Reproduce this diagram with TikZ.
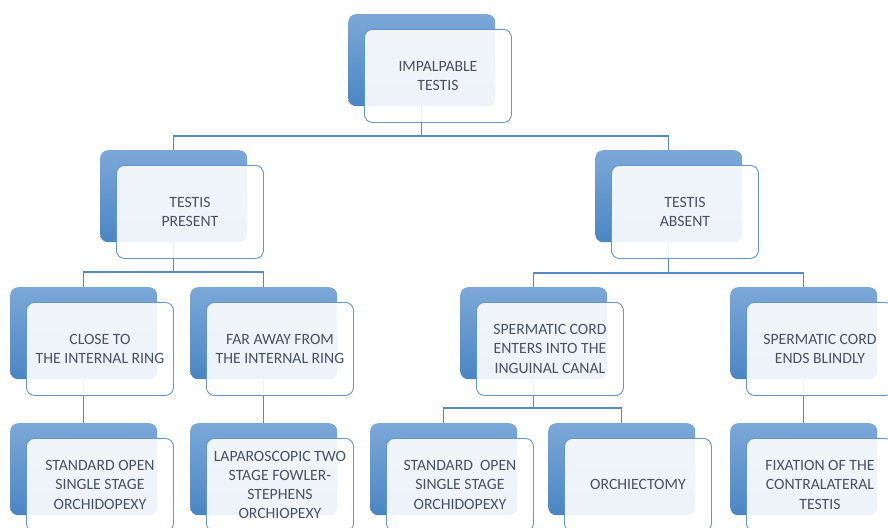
\documentclass[tikz,border=0pt]{standalone}
\usepackage{fontspec}
\setmainfont{Carlito}
\definecolor{boxtop}{RGB}{124,168,216}
\definecolor{boxbot}{RGB}{74,134,196}
\definecolor{frontline}{RGB}{100,149,207}
\definecolor{connc}{RGB}{88,137,197}
\definecolor{txt}{RGB}{72,82,100}
\pgfdeclarelayer{bg}
\pgfsetlayers{bg,main}
\tikzset{
  backbox/.style={rounded corners=8pt, top color=boxtop, bottom color=boxbot,
    minimum width=147pt, minimum height=92pt, inner sep=0pt, anchor=north west},
  frontbox/.style={rounded corners=8pt, draw=frontline, line width=0.9pt,
    fill=white, fill opacity=0.9, text opacity=1, text=txt,
    minimum width=147pt, minimum height=93pt, inner sep=0pt, anchor=north west,
    align=center, font=\fontsize{15.7}{19.3}\selectfont},
  conn/.style={draw=connc, line width=1.3pt}
}
\newcommand\boxpair[4]{%
  \node[backbox] (#1) at (#2,#3) {};
  \node[frontbox] (#1f) at (#2+16,#3+15) {#4};
}
\begin{document}
\begin{tikzpicture}[x=1pt,y=-1pt]
\useasboundingbox (0,0) rectangle (888,527);
\clip (0,0) rectangle (888,527);
\boxpair{top}{348}{14}{IMPALPABLE\\TESTIS}
\boxpair{tp}{100}{150}{TESTIS\\PRESENT}
\boxpair{ta}{595}{150}{TESTIS\\ABSENT}
\boxpair{close}{10}{287}{CLOSE TO\\THE INTERNAL RING}
\boxpair{far}{190}{287}{FAR AWAY FROM\\THE INTERNAL RING}
\boxpair{enters}{460}{287}{SPERMATIC CORD\\ENTERS INTO THE\\INGUINAL CANAL}
\boxpair{ends}{730}{287}{SPERMATIC CORD\\ENDS BLINDLY}
\boxpair{stdA}{10}{423}{STANDARD OPEN\\SINGLE STAGE\\ORCHIDOPEXY}
\boxpair{lap}{190}{423}{LAPAROSCOPIC TWO\\STAGE FOWLER-\\STEPHENS\\ORCHIOPEXY}
\boxpair{stdB}{370}{423}{STANDARD\ \ OPEN\\SINGLE STAGE\\ORCHIDOPEXY}
\boxpair{orch}{548}{423}{ORCHIECTOMY}
\boxpair{fix}{730}{423}{FIXATION OF THE\\CONTRALATERAL\\TESTIS}
\begin{pgfonlayer}{bg}
\fill[white] (0,0) rectangle (888,527);
\draw[conn] (top.south) -- (top.south |- 0,136) -| (tp.north);
\draw[conn] (top.south |- 0,136) -| (ta.north);
\draw[conn] (tp.south) -- (tp.south |- 0,272) -| (close.north);
\draw[conn] (tp.south |- 0,272) -| (far.north);
\draw[conn] (ta.south) -- (ta.south |- 0,273) -| (enters.north);
\draw[conn] (ta.south |- 0,273) -| (ends.north);
\draw[conn] (close.south) -- (stdA.north);
\draw[conn] (far.south) -- (lap.north);
\draw[conn] (enters.south) -- (enters.south |- 0,408) -| (stdB.north);
\draw[conn] (enters.south |- 0,408) -| (orch.north);
\draw[conn] (ends.south) -- (fix.north);
\end{pgfonlayer}
\end{tikzpicture}
\end{document}
